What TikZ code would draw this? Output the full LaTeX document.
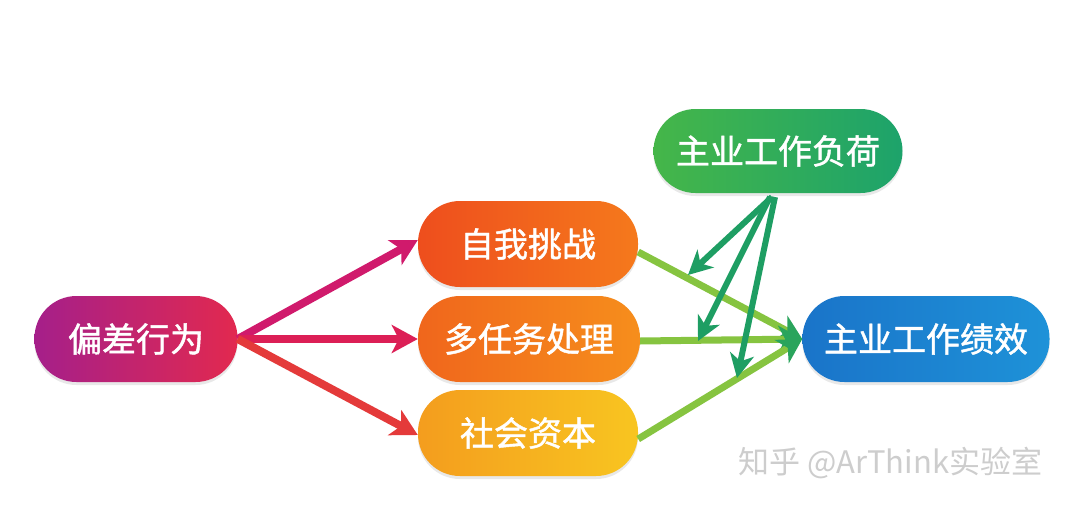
\documentclass[tikz,border=0pt]{standalone}
\usepackage{fontspec}
\newfontfamily\cjk{Noto Sans CJK SC}
\newfontfamily\cjkb{Noto Sans CJK SC}[FakeBold=1.3]
\usetikzlibrary{arrows.meta,shadows}
\definecolor{devL}{HTML}{A51F8A}
\definecolor{devR}{HTML}{E2294F}
\definecolor{chalL}{HTML}{EE4E1D}
\definecolor{chalR}{HTML}{F5791C}
\definecolor{multL}{HTML}{F0661C}
\definecolor{multR}{HTML}{F68E1C}
\definecolor{socL}{HTML}{F49D1E}
\definecolor{socR}{HTML}{F8C520}
\definecolor{loadL}{HTML}{45B649}
\definecolor{loadR}{HTML}{1DA36B}
\definecolor{perfL}{HTML}{1A74C9}
\definecolor{perfR}{HTML}{1E92D8}
\definecolor{lgreen}{HTML}{86C440}
\definecolor{dgreen}{HTML}{1E9E63}
\definecolor{tipgreen}{HTML}{2AA45C}
\definecolor{redA}{HTML}{D01A6C}
\definecolor{redB}{HTML}{DC1F56}
\definecolor{redC}{HTML}{E43A3A}
\definecolor{wm}{HTML}{CDCDCD}
\tikzset{
  pill/.style={rectangle, rounded corners=42pt, minimum height=86pt, text=white,
    font=\cjkb\fontsize{34}{40}\selectfont, inner sep=0pt,
    drop shadow={opacity=0.18, shadow xshift=0pt, shadow yshift=-3pt}},
  bigarrow/.style={line width=8pt, -{Stealth[length=26pt,width=28pt,inset=7pt]}},
  greenline/.style={line width=7pt, lgreen, -{Stealth[length=24pt,width=27pt,inset=7pt,color=tipgreen]}},
  loadarrow/.style={line width=6pt, dgreen, -{Stealth[length=24pt,width=24pt,inset=7pt]}}
}
\begin{document}
\begin{tikzpicture}[x=1pt,y=-1pt]
\useasboundingbox (0,0) rectangle (1080,506);
\fill[white] (0,0) rectangle (1080,506);
% nodes
\node[pill, minimum width=203pt, left color=devL, right color=devR] (dev) at (136,339) {偏差行为};
\node[pill, minimum width=220pt, left color=chalL, right color=chalR] (chal) at (528,244) {自我挑战};
\node[pill, minimum width=222pt, left color=multL, right color=multR] (multi) at (529,339) {多任务处理};
\node[pill, minimum width=220pt, left color=socL, right color=socR] (social) at (528,433) {社会资本};
\node[pill, minimum width=249pt, minimum height=84pt, left color=loadL, right color=loadR] (load) at (778,151) {主业工作负荷};
\node[pill, minimum width=247pt, left color=perfL, right color=perfR] (perf) at (926,339) {主业工作绩效};
% watermark
\node[text=wm, font=\cjk\fontsize{31}{36}\selectfont, anchor=west, inner sep=0pt] (wmark) at (738,463) {知乎 @ArThink实验室};
% red arrows
\draw[bigarrow, redA] (dev.east) -- ([yshift=4pt]chal.west);
\draw[bigarrow, redB] (dev.east) -- (multi.west);
\draw[bigarrow, redC] (dev.east) -- ([yshift=-2pt]social.west);
% green lines
\draw[greenline] ([yshift=-8pt]chal.east) -- (perf.west);
\draw[greenline] ([yshift=-2pt]multi.east) -- (perf.west);
\draw[greenline] ([yshift=-6pt]social.east) -- (perf.west);
% load arrows
\coordinate (t1) at (688,275);
\coordinate (t2) at (698,341);
\coordinate (t3) at (737,378);
\coordinate (s1) at (772,197);
\coordinate (s2) at (770,197);
\coordinate (s3) at (775,197);
\draw[loadarrow] (s1) -- (t1);
\draw[loadarrow] (s2) -- (t2);
\draw[loadarrow] (s3) -- (t3);
\end{tikzpicture}
\end{document}
